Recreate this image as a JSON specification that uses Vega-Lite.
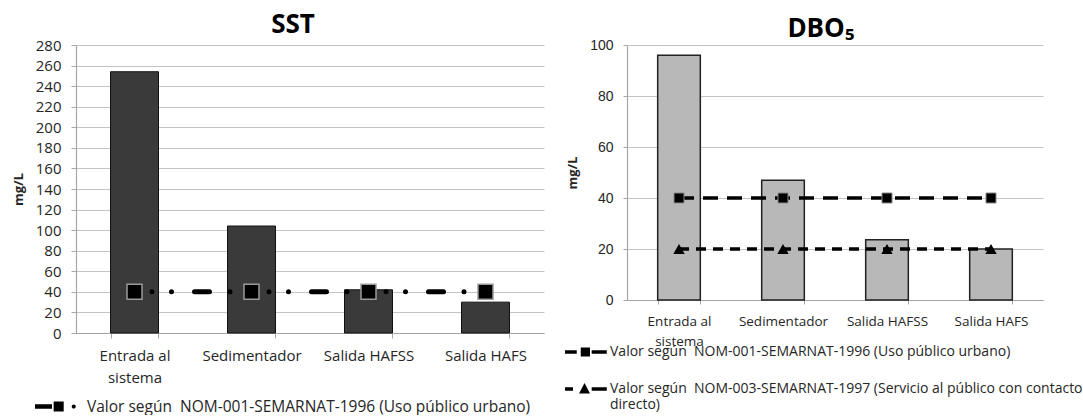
{
  "$schema": "https://vega.github.io/schema/vega-lite/v6.json",
  "background": "white",
  "padding": {"left": 12, "top": 11, "right": 0, "bottom": 0},
  "spacing": 21,
  "resolve": {
    "scale": {"color": "independent", "shape": "independent"},
    "legend": {"color": "independent", "shape": "independent"}
  },
  "config": {
    "view": {"stroke": null},
    "font": "Open Sans",
    "axis": {
      "labelColor": "#262626",
      "titleColor": "#262626",
      "domainColor": "#a6a6a6",
      "tickColor": "#a6a6a6",
      "gridColor": "#c4c4c4",
      "domainWidth": 1.2,
      "gridWidth": 1.2
    }
  },
  "datasets": {
    "sst": [
      {"etapa": "Entrada al sistema", "valor": 254},
      {"etapa": "Sedimentador", "valor": 104},
      {"etapa": "Salida HAFSS", "valor": 42},
      {"etapa": "Salida HAFS", "valor": 30}
    ],
    "sst_norma": [
      {"etapa": "Entrada al sistema", "norma": "Valor según  NOM-001-SEMARNAT-1996 (Uso público urbano)", "valor": 40},
      {"etapa": "Sedimentador", "norma": "Valor según  NOM-001-SEMARNAT-1996 (Uso público urbano)", "valor": 40},
      {"etapa": "Salida HAFSS", "norma": "Valor según  NOM-001-SEMARNAT-1996 (Uso público urbano)", "valor": 40},
      {"etapa": "Salida HAFS", "norma": "Valor según  NOM-001-SEMARNAT-1996 (Uso público urbano)", "valor": 40}
    ],
    "dbo": [
      {"etapa": "Entrada al sistema", "valor": 96},
      {"etapa": "Sedimentador", "valor": 47},
      {"etapa": "Salida HAFSS", "valor": 23.6},
      {"etapa": "Salida HAFS", "valor": 20}
    ],
    "dbo_nom001": [
      {"etapa": "Entrada al sistema", "norma": "Valor según  NOM-001-SEMARNAT-1996 (Uso público urbano)", "valor": 40},
      {"etapa": "Sedimentador", "norma": "Valor según  NOM-001-SEMARNAT-1996 (Uso público urbano)", "valor": 40},
      {"etapa": "Salida HAFSS", "norma": "Valor según  NOM-001-SEMARNAT-1996 (Uso público urbano)", "valor": 40},
      {"etapa": "Salida HAFS", "norma": "Valor según  NOM-001-SEMARNAT-1996 (Uso público urbano)", "valor": 40}
    ],
    "dbo_nom003": [
      {"etapa": "Entrada al sistema", "norma": "Valor según  NOM-003-SEMARNAT-1997 (Servicio al público con contacto directo)", "valor": 20},
      {"etapa": "Sedimentador", "norma": "Valor según  NOM-003-SEMARNAT-1997 (Servicio al público con contacto directo)", "valor": 20},
      {"etapa": "Salida HAFSS", "norma": "Valor según  NOM-003-SEMARNAT-1997 (Servicio al público con contacto directo)", "valor": 20},
      {"etapa": "Salida HAFS", "norma": "Valor según  NOM-003-SEMARNAT-1997 (Servicio al público con contacto directo)", "valor": 20}
    ]
  },
  "hconcat": [
    {
      "width": 468,
      "height": 288,
      "title": {"text": "SST", "font": "Open Sans", "fontSize": 26, "fontWeight": "bold", "color": "black", "baseline": "alphabetic", "offset": -20.5, "dx": -17},
      "encoding": {
        "x": {
          "field": "etapa", "type": "nominal", "sort": null,
          "scale": {"paddingInner": 0.59, "paddingOuter": 0.295},
          "axis": {
            "title": null, "labelAngle": 0, "labelFont": "Open Sans", "labelFontSize": 15,
            "labelExpr": "datum.value == 'Entrada al sistema' ? ['Entrada al', 'sistema'] : datum.value",
            "labelLineHeight": 22, "labelBaseline": "top", "labelPadding": 10, "labelLimit": 300,
            "tickBand": "extent", "tickSize": 5
          }
        },
        "y": {
          "field": "valor", "type": "quantitative",
          "scale": {"domain": [0, 280], "nice": false},
          "axis": {
            "title": "mg/L", "titleFont": "Open Sans", "titleFontSize": 13, "titleFontWeight": "bold", "titlePadding": 9,
            "values": [0, 20, 40, 60, 80, 100, 120, 140, 160, 180, 200, 220, 240, 260, 280],
            "labelOverlap": false,
            "labelFont": "Open Sans", "labelFontSize": 15, "tickSize": 5, "labelPadding": 10,
            "minExtent": 42, "maxExtent": 42, "grid": true
          }
        }
      },
      "layer": [
        {
          "data": {"name": "sst"},
          "mark": {"type": "bar", "fill": "#3a3a3a", "stroke": "#111111", "strokeWidth": 1}
        },
        {
          "data": {"name": "sst_norma"},
          "mark": {"type": "line", "strokeWidth": 5, "strokeCap": "round", "strokeDash": [15, 20.5, 0, 19.5, 0, 19.5, 0, 19.5, 0, 23], "strokeDashOffset": 57},
          "encoding": {
            "color": {
              "field": "norma", "type": "nominal", "scale": {"range": ["black"]},
              "legend": {
                "title": null, "orient": "none", "legendX": -41, "legendY": 341,
                "symbolType": "M-1,-0.11H-0.17V0.11H-1Z M-0.09,-0.24H0.4V0.24H-0.09Z M0.79,0 A0.1,0.1 0 1,0 0.99,0 A0.1,0.1 0 1,0 0.79,0Z",
                "symbolSize": 1681, "symbolStrokeWidth": 0,
                "labelFont": "Open Sans", "labelFontSize": 15.5, "labelColor": "#262626", "labelOffset": 11, "labelLimit": 700,
                "labelExpr": "replace(datum.label, 'según  ', 'según\u00a0 ')",
                "encode": {"symbols": {"update": {"fill": {"value": "black"}, "stroke": {"value": "transparent"}, "strokeWidth": {"value": 0}}}}
              }
            }
          }
        },
        {
          "data": {"name": "sst_norma"},
          "mark": {"type": "point", "shape": "square", "filled": true, "size": 225, "color": "black", "stroke": "#9a9a9a", "strokeWidth": 1.5, "opacity": 1}
        }
      ]
    },
    {
      "width": 416,
      "height": 255,
      "title": {"text": "DBO₅", "font": "Open Sans", "fontSize": 26, "fontWeight": "bold", "color": "black", "baseline": "alphabetic", "offset": -25, "dx": -14},
      "encoding": {
        "x": {
          "field": "etapa", "type": "nominal", "sort": null,
          "scale": {"paddingInner": 0.59, "paddingOuter": 0.295},
          "axis": {
            "title": null, "labelAngle": 0, "labelFont": "Open Sans", "labelFontSize": 13.5,
            "labelExpr": "datum.value == 'Entrada al sistema' ? ['Entrada al', 'sistema'] : datum.value",
            "labelLineHeight": 20, "labelBaseline": "top", "labelPadding": 10, "labelLimit": 300,
            "tickBand": "extent", "tickSize": 4
          }
        },
        "y": {
          "field": "valor", "type": "quantitative",
          "scale": {"domain": [0, 100], "nice": false},
          "axis": {
            "title": "mg/L", "titleFont": "Open Sans", "titleFontSize": 13, "titleFontWeight": "bold", "titlePadding": 10,
            "values": [0, 20, 40, 60, 80, 100],
            "labelFont": "Liberation Sans", "labelFontSize": 14, "tickSize": 4, "labelPadding": 10,
            "minExtent": 38, "maxExtent": 38, "grid": true
          }
        }
      },
      "layer": [
        {
          "data": {"name": "dbo"},
          "mark": {"type": "bar", "fill": "#b8b8b8", "stroke": "#222222", "strokeWidth": 1.5}
        },
        {
          "data": {"name": "dbo_nom001"},
          "mark": {"type": "line", "strokeWidth": 3.5, "strokeDash": [15, 9]},
          "encoding": {
            "color": {
              "field": "norma", "type": "nominal", "scale": {"range": ["black"]},
              "legend": {
                "title": null, "orient": "none", "legendX": -62, "legendY": 286,
                "symbolType": "M-1,-0.085H-0.44V0.085H-1Z M-0.25,-0.22H0.19V0.22H-0.25Z M0.27,-0.085H0.99V0.085H0.27Z",
                "symbolSize": 1764, "symbolStrokeWidth": 0,
                "labelFont": "Open Sans", "labelFontSize": 14, "labelColor": "#262626", "labelOffset": 3, "labelLimit": 700,
                "labelExpr": "replace(datum.label, 'según  ', 'según\u00a0 ')",
                "encode": {"symbols": {"update": {"fill": {"value": "black"}, "stroke": {"value": "transparent"}, "strokeWidth": {"value": 0}}}}
              }
            }
          }
        },
        {
          "data": {"name": "dbo_nom003"},
          "mark": {"type": "line", "strokeWidth": 3.5, "color": "black", "strokeDash": [10, 7]}
        },
        {
          "data": {"name": "dbo_nom001"},
          "mark": {"type": "point", "shape": "square", "filled": true, "size": 100, "color": "black", "stroke": "#8a8a8a", "strokeWidth": 1, "opacity": 1}
        },
        {
          "data": {"name": "dbo_nom003"},
          "mark": {"type": "point", "shape": "triangle-up", "filled": true, "size": 130, "color": "black", "opacity": 1}
        },
        {
          "data": {"name": "dbo_nom003"},
          "mark": {"type": "point", "filled": true, "size": 4, "color": "black", "opacity": 0},
          "encoding": {
            "shape": {
              "field": "norma", "type": "nominal",
              "scale": {"range": ["M-1,-0.085H-0.62V0.085H-1Z M-0.33,0.22L-0.07,-0.28L0.19,0.22Z M0.27,-0.085H0.99V0.085H0.27Z"]},
              "legend": {
                "title": null, "orient": "none", "legendX": -62, "legendY": 323,
                "symbolSize": 1764, "symbolStrokeWidth": 0,
                "labelFont": "Open Sans", "labelFontSize": 14, "labelColor": "#262626", "labelOffset": 3, "labelLimit": 700,
                "labelExpr": "['Valor según\u00a0 NOM-003-SEMARNAT-1997 (Servicio al público con contacto', 'directo)']",
                "encode": {
                  "symbols": {"update": {
                    "size": {"value": 1764},
                    "fill": {"value": "black"}, "fillOpacity": {"value": 1}, "opacity": {"value": 1},
                    "stroke": {"value": "transparent"}, "strokeWidth": {"value": 0}
                  }},
                  "labels": {"update": {"lineHeight": {"value": 18}}}
                }
              }
            }
          }
        }
      ]
    }
  ]
}
